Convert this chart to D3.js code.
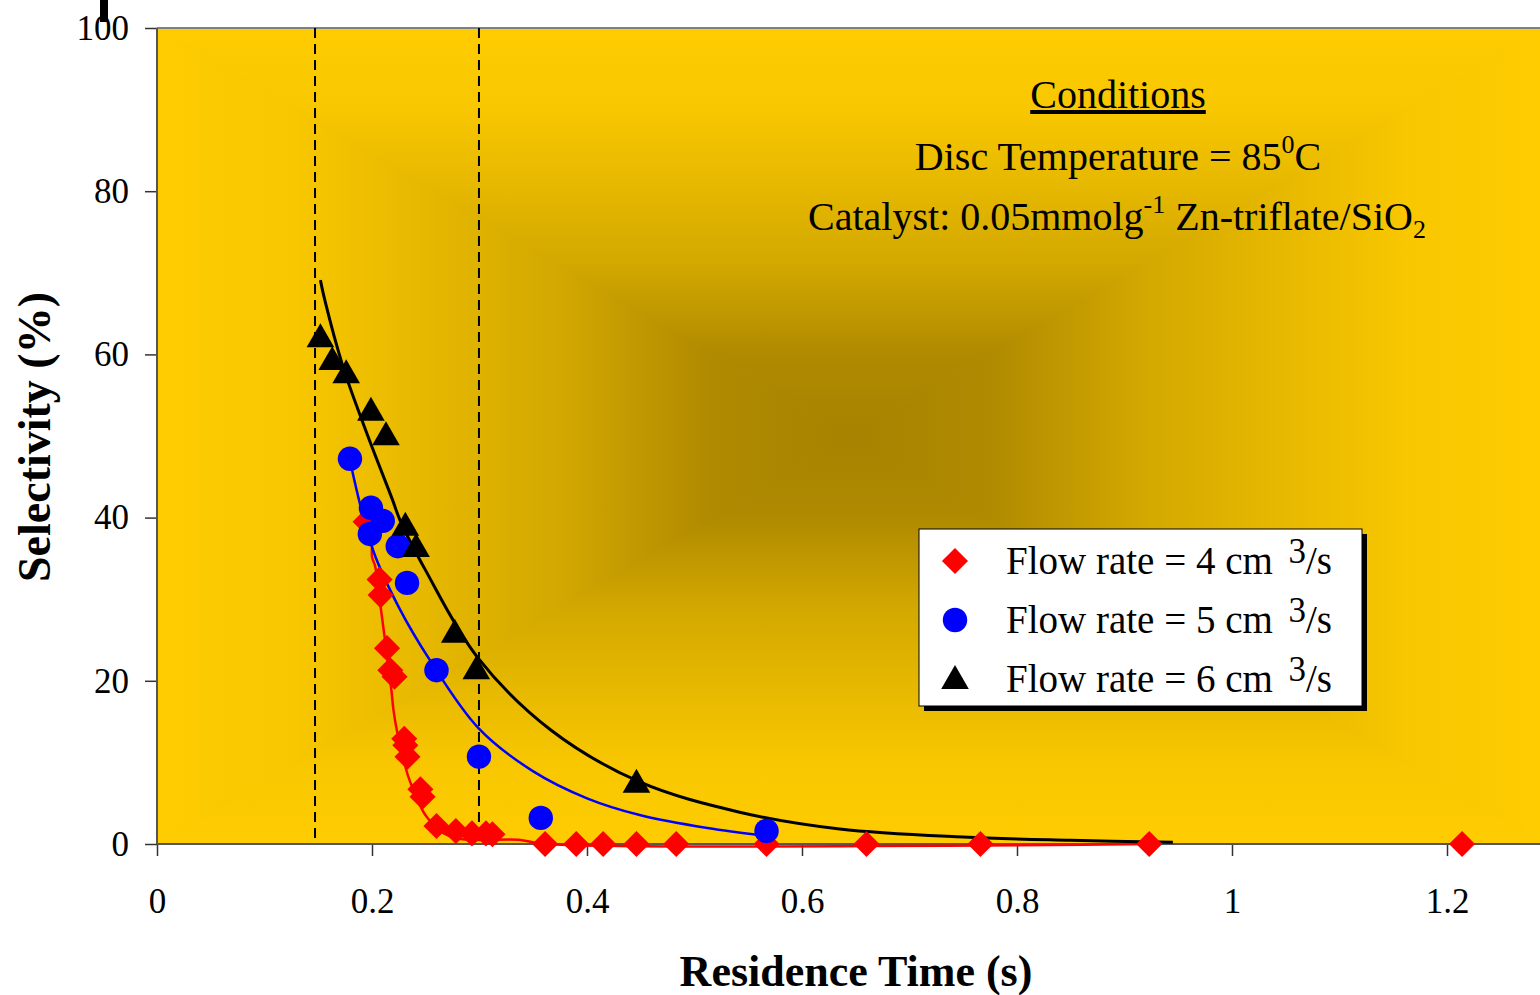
<!DOCTYPE html>
<meta charset="utf-8">
<style>
body { margin: 0; background: #fff; }
svg text { font-family: "Liberation Serif", "Times New Roman", serif; fill: #000; }
</style>
<body>
<div id="chart"></div>
<script src="https://d3js.org/d3.v7.min.js"></script>
<script>

// measured points, flow rate 4 cm3/s
var redX = [0.194, 0.207, 0.208, 0.214, 0.217, 0.221, 0.230, 0.231, 0.233, 0.245, 0.247, 0.260, 0.278, 0.293, 0.306, 0.312,
            0.361, 0.390, 0.415, 0.446, 0.483, 0.567, 0.660, 0.766, 0.923, 1.214];
var redY = [39.5, 32.4, 30.5, 24.0, 21.3, 20.5, 12.9, 12.1, 10.7, 6.7, 5.8, 2.2, 1.6, 1.3, 1.3, 1.2,
            0, 0, 0, 0, 0, 0, 0, 0, 0, 0];
// flow rate 5 cm3/s
var blueX = [0.1795, 0.199, 0.210, 0.198, 0.224, 0.2326, 0.260, 0.2995, 0.357, 0.567];
var blueY = [47.2, 41.2, 39.6, 38.0, 36.5, 32.0, 21.3, 10.7, 3.2, 1.6];
// flow rate 6 cm3/s
var blackX = [0.152, 0.163, 0.176, 0.199, 0.213, 0.231, 0.241, 0.277, 0.297, 0.446];
var blackY = [62.1, 59.3, 57.7, 53.1, 50.1, 39.0, 36.4, 25.9, 21.4, 7.5];

// trend lines
var redLineX = [0.194, 0.1997, 0.2, 0.203, 0.208, 0.218, 0.22, 0.223, 0.231, 0.235, 0.251, 0.273, 0.338, 0.361, 0.923];
var redLineY = [39.5, 38.9, 35.2, 34.0, 29.1, 18.9, 16.4, 14.0, 9.5, 7.8, 3.3, 0.9, 0.5, 0, 0];
var blueLineX = [0.18, 0.201, 0.225, 0.254, 0.299, 0.35, 0.4, 0.449, 0.512, 0.567];
var blueLineY = [46.7, 36, 29, 22.5, 14.2, 8.9, 5.6, 3.55, 1.96, 1.0];
var blackLineX = [0.152, 0.156, 0.173, 0.195, 0.219, 0.226, 0.25, 0.298, 0.366, 0.449, 0.542, 0.635, 0.75, 0.85, 0.945];
var blackLineY = [69.1, 66.7, 58.5, 50.4, 42.2, 39.7, 33.5, 22.9, 14.0, 7.6, 3.9, 1.84, 0.85, 0.45, 0.2];

var dashedX = [0.147, 0.2995];

var xTicks = [0, 0.2, 0.4, 0.6, 0.8, 1, 1.2];
var yTicks = [0, 20, 40, 60, 80, 100];

var seriesNames = ["Flow rate = 4 cm ", "Flow rate = 5 cm ", "Flow rate = 6 cm "];

(function() {
var width = 1540, height = 995;
var mLeft = 157, mTop = 28, mBottom = 844, plotRight = 1545;

var svg = d3.select("#chart").append("svg")
    .attr("width", width)
    .attr("height", height);

var x = d3.scaleLinear().domain([0, 1.4]).range([mLeft, mLeft + 1.4 * 1075]);
var y = d3.scaleLinear().domain([0, 100]).range([mBottom, mTop]);

// background: rectangular "from centre" gradient, built from four triangles
var defs = svg.append("defs");
var cx = (mLeft + plotRight) / 2, cy = (mTop + mBottom) / 2;
var stops = [[0, "#FFCC00"], [0.2, "#F8C700"], [0.57, "#D4A900"], [0.8, "#B08A00"], [1, "#A68300"]];
var sides = [
    {id: "gTop", x1: cx, y1: mTop, x2: cx, y2: cy, pts: [[mLeft, mTop], [plotRight, mTop], [cx, cy]]},
    {id: "gBot", x1: cx, y1: mBottom, x2: cx, y2: cy, pts: [[mLeft, mBottom], [plotRight, mBottom], [cx, cy]]},
    {id: "gLeft", x1: mLeft, y1: cy, x2: cx, y2: cy, pts: [[mLeft, mTop], [mLeft, mBottom], [cx, cy]]},
    {id: "gRight", x1: plotRight, y1: cy, x2: cx, y2: cy, pts: [[plotRight, mTop], [plotRight, mBottom], [cx, cy]]}
];
sides.forEach(function(s) {
    var g = defs.append("linearGradient").attr("id", s.id)
        .attr("gradientUnits", "userSpaceOnUse")
        .attr("x1", s.x1).attr("y1", s.y1).attr("x2", s.x2).attr("y2", s.y2);
    stops.forEach(function(st) {
        g.append("stop").attr("offset", st[0]).attr("stop-color", st[1]);
    });
});
svg.append("rect")
    .attr("x", mLeft).attr("y", mTop)
    .attr("width", plotRight - mLeft).attr("height", mBottom - mTop)
    .attr("fill", "#D4A900");
svg.selectAll("polygon.bg").data(sides).enter().append("polygon")
    .attr("class", "bg")
    .attr("points", function(s) { return s.pts.join(" "); })
    .attr("fill", function(s) { return "url(#" + s.id + ")"; })
    .attr("stroke", function(s) { return "url(#" + s.id + ")"; })
    .attr("stroke-width", 0.6);

// top border
svg.append("line")
    .attr("x1", mLeft).attr("x2", width).attr("y1", mTop).attr("y2", mTop)
    .attr("stroke", "#808080").attr("stroke-width", 2);

// axes
var xAxis = d3.axisBottom(x).tickValues(xTicks).tickSize(12).tickPadding(24)
    .tickFormat(function(d) { return d; });
var gx = svg.append("g").attr("transform", "translate(0," + mBottom + ")").call(xAxis);
gx.select(".domain").remove();
gx.append("line").attr("x1", mLeft).attr("x2", width).attr("y1", 0).attr("y2", 0)
    .attr("stroke", "#555").attr("stroke-width", 2);
gx.selectAll(".tick line").attr("stroke", "#333").attr("stroke-width", 1.5);
gx.selectAll(".tick text").attr("font-size", 35).attr("fill", "#000")
    .attr("font-family", "Liberation Serif").attr("dy", "0.95em");

var yAxis = d3.axisLeft(y).tickValues(yTicks).tickSize(12).tickPadding(16);
var gy = svg.append("g").attr("transform", "translate(" + mLeft + ",0)").call(yAxis);
gy.select(".domain").remove();
gy.append("line").attr("x1", 0).attr("x2", 0).attr("y1", mTop).attr("y2", mBottom)
    .attr("stroke", "#555").attr("stroke-width", 2);
gy.selectAll(".tick line").attr("stroke", "#333").attr("stroke-width", 1.5);
gy.selectAll(".tick text").attr("font-size", 35).attr("fill", "#000")
    .attr("font-family", "Liberation Serif");

// dashed guides
svg.selectAll("line.guide").data(dashedX).enter().append("line")
    .attr("class", "guide")
    .attr("x1", function(d) { return x(d); }).attr("x2", function(d) { return x(d); })
    .attr("y1", mTop).attr("y2", mBottom)
    .attr("stroke", "#000").attr("stroke-width", 2).attr("stroke-dasharray", "10,6");

// trend lines
function pairs(xs, ys) { return xs.map(function(v, i) { return [v, ys[i]]; }); }
var line = d3.line()
    .x(function(d) { return x(d[0]); })
    .y(function(d) { return y(d[1]); })
    .curve(d3.curveCatmullRom.alpha(0.5));

svg.append("path").datum(pairs(redLineX, redLineY))
    .attr("d", line).attr("fill", "none").attr("stroke", "#FF0000").attr("stroke-width", 2.5);
svg.append("path").datum(pairs(blueLineX, blueLineY))
    .attr("d", line).attr("fill", "none").attr("stroke", "#0000FF").attr("stroke-width", 2.5);
svg.append("path").datum(pairs(blackLineX, blackLineY))
    .attr("d", line).attr("fill", "none").attr("stroke", "#000").attr("stroke-width", 3);

// markers
var diamond = d3.symbol().type(d3.symbolSquare).size(340);
var circle = d3.symbol().type(d3.symbolCircle).size(470);
var triangle = d3.symbol().type(d3.symbolTriangle).size(330);

svg.selectAll("path.red").data(pairs(redX, redY)).enter().append("path")
    .attr("class", "red")
    .attr("d", diamond)
    .attr("transform", function(d) { return "translate(" + x(d[0]) + "," + y(d[1]) + ") rotate(45)"; })
    .attr("fill", "#FF0000");
svg.selectAll("path.blue").data(pairs(blueX, blueY)).enter().append("path")
    .attr("class", "blue")
    .attr("d", circle)
    .attr("transform", function(d) { return "translate(" + x(d[0]) + "," + y(d[1]) + ")"; })
    .attr("fill", "#0000FF");
svg.selectAll("path.black").data(pairs(blackX, blackY)).enter().append("path")
    .attr("class", "black")
    .attr("d", triangle)
    .attr("transform", function(d) { return "translate(" + x(d[0]) + "," + (y(d[1]) + 2) + ")"; })
    .attr("fill", "#000");

// conditions text
var cond = svg.append("g").attr("font-size", 40);
cond.append("text").attr("x", 1118).attr("y", 108).attr("text-anchor", "middle")
    .attr("text-decoration", "underline").text("Conditions");
var t2 = cond.append("text").attr("x", 1118).attr("y", 170).attr("text-anchor", "middle");
t2.append("tspan").text("Disc Temperature = 85");
t2.append("tspan").attr("dy", -17).attr("font-size", 26).text("0");
t2.append("tspan").attr("dy", 17).text("C");
var t3 = cond.append("text").attr("x", 1117).attr("y", 230).attr("text-anchor", "middle");
t3.append("tspan").text("Catalyst: 0.05mmolg");
t3.append("tspan").attr("dy", -17).attr("font-size", 26).text("-1");
t3.append("tspan").attr("dy", 17).text(" Zn-triflate/SiO");
t3.append("tspan").attr("dy", 8).attr("font-size", 26).text("2");

// legend
var lg = svg.append("g");
lg.append("rect").attr("x", 924).attr("y", 534).attr("width", 443).attr("height", 177).attr("fill", "#000");
lg.append("rect").attr("x", 919).attr("y", 529).attr("width", 443).attr("height", 177)
    .attr("fill", "#fff").attr("stroke", "#000").attr("stroke-width", 1);
var legendSymbols = [diamond, circle, triangle];
var legendColors = ["#FF0000", "#0000FF", "#000"];
seriesNames.forEach(function(name, i) {
    var yy = 561 + i * 59;
    lg.append("path").attr("d", legendSymbols[i])
        .attr("transform", "translate(955," + (i == 2 ? yy + 2 : yy) + ")" + (i == 0 ? " rotate(45)" : ""))
        .attr("fill", legendColors[i]);
    var t = lg.append("text").attr("x", 1006).attr("y", yy + 13).attr("font-size", 39);
    t.append("tspan").text(name);
    t.append("tspan").attr("dx", 6).attr("dy", -11).attr("font-size", 35).text("3");
    t.append("tspan").attr("dy", 11).text("/s");
});

// axis titles
svg.append("text").attr("x", 856).attr("y", 986).attr("text-anchor", "middle")
    .attr("font-size", 44).attr("font-weight", "bold").text("Residence Time (s)");
svg.append("text").attr("transform", "translate(50,437) rotate(-90)").attr("text-anchor", "middle")
    .attr("font-size", 46).attr("font-weight", "bold").text("Selectivity (%)");

// stray mark at the top left of the original
svg.append("rect").attr("x", 100).attr("y", 0).attr("width", 8).attr("height", 22).attr("fill", "#000");
})();

</script>
</body>
